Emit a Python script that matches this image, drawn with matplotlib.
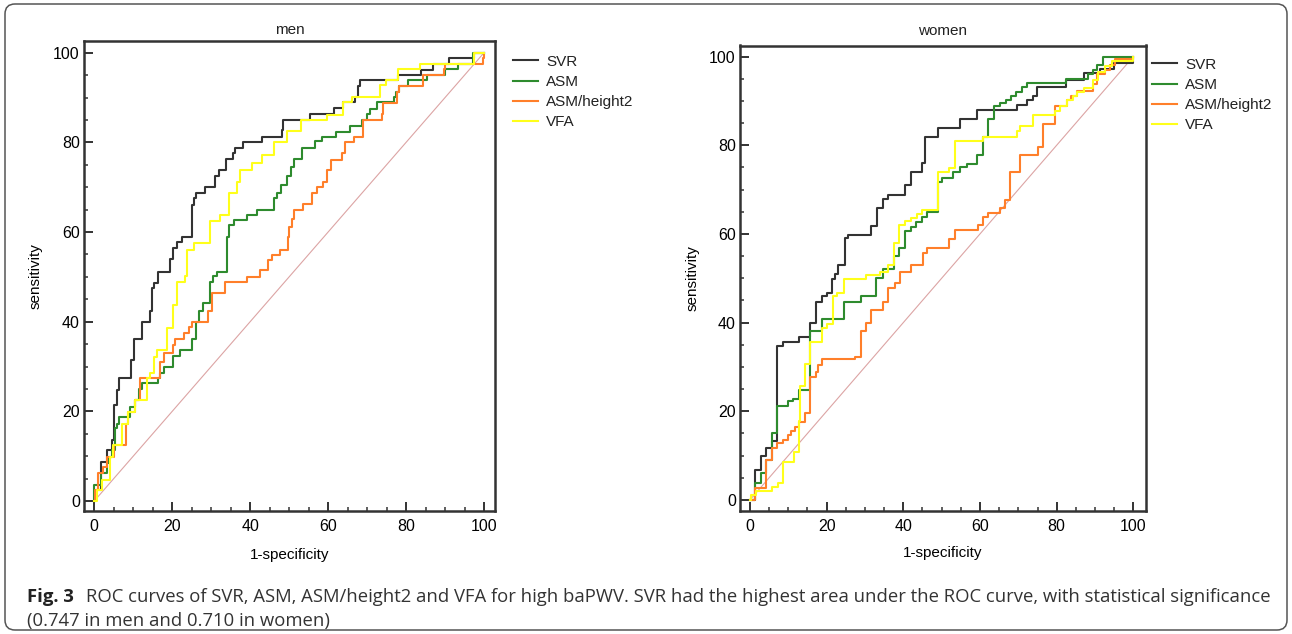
"""
ROC curves of SVR, ASM, ASM/height2 and VFA for high baPWV (men / women).
"""
import matplotlib
matplotlib.use("Agg")
import matplotlib.pyplot as plt
import numpy as np
from matplotlib import font_manager
from matplotlib.patches import FancyBboxPatch
from matplotlib.ticker import MultipleLocator
from matplotlib.transforms import IdentityTransform

# ── Data: (1-specificity, sensitivity) corners of each step curve ───────────
MEN_SVR = [(0, 0), (0.4, 2.5), (1.7, 8.8), (3.2, 11.4), (4.5, 13.6), (5.2, 21.4),
           (5.8, 24.8), (6.5, 27.5), (9.4, 31.5), (10.1, 36.2), (12.3, 40.0),
           (14.2, 42.3), (14.8, 47.5), (15.4, 48.7), (16.5, 51.2), (19.5, 54.0),
           (20.2, 56.4), (21.2, 57.7), (22.5, 58.9), (25.0, 66.0), (25.5, 67.5),
           (26.1, 68.7), (28.5, 70.0), (31.0, 72.5), (32.1, 73.9), (33.8, 76.3),
           (35.5, 77.6), (36.0, 78.7), (38.3, 80.0), (43.0, 81.2), (48.1, 82.8),
           (48.4, 85.0), (55.4, 86.4), (61.4, 87.6), (63.8, 88.9), (66.9, 90.2),
           (67.6, 92.5), (68.2, 93.8), (78.0, 95.1), (83.8, 96.2), (86.8, 97.5),
           (91.1, 98.8), (97.3, 100), (100, 100)]

MEN_ASM = [(0, 0), (0, 3.6), (1.7, 6.2), (3.2, 8.4), (3.9, 9.9), (4.5, 11.4),
           (5.4, 16.2), (5.8, 17.3), (6.5, 18.8), (9.2, 21.0), (10.5, 22.5),
           (11.4, 25.1), (12.2, 26.4), (16.5, 27.4), (16.9, 28.6), (18.0, 30.0),
           (20.2, 32.4), (22.0, 33.7), (25.0, 36.1), (26.2, 40.0), (26.8, 42.3),
           (27.9, 44.1), (29.7, 48.9), (30.4, 50.2), (31.5, 51.2), (34.0, 58.8),
           (34.6, 61.6), (35.9, 62.6), (39.1, 63.8), (41.7, 64.9), (46.0, 67.5),
           (46.8, 68.7), (48.0, 70.5), (49.4, 72.5), (50.5, 74.5), (51.3, 76.3),
           (53.3, 78.7), (56.7, 80.2), (58.4, 81.3), (62.0, 82.4), (65.6, 83.7),
           (68.6, 85.0), (70.1, 86.3), (70.8, 87.4), (72.5, 88.9), (76.8, 90.2),
           (77.4, 91.3), (78.3, 92.5), (80.6, 93.8), (85.3, 95.1), (90.0, 96.3),
           (93.4, 97.5), (97.1, 100), (100, 100)]

MEN_ASMH = [(0, 0), (0.3, 2.5), (1.1, 6.2), (2.4, 7.7), (3.2, 9.9), (5.0, 12.5),
            (8.2, 17.3), (8.8, 19.9), (10.5, 22.5), (11.8, 27.4), (16.9, 31.1),
            (18.0, 33.0), (20.2, 34.8), (20.8, 36.1), (23.0, 37.5), (24.2, 38.9),
            (25.0, 40.0), (29.3, 42.3), (30.2, 46.4), (33.6, 48.8), (39.1, 50.0),
            (42.6, 51.6), (44.5, 53.8), (45.6, 54.9), (47.7, 56.0), (49.6, 59.0),
            (50.0, 61.2), (50.7, 63.0), (51.3, 64.9), (53.5, 66.3), (55.8, 68.7),
            (57.1, 70.1), (58.8, 71.2), (59.8, 73.8), (60.7, 76.1), (63.5, 77.6),
            (64.3, 80.0), (66.7, 81.3), (68.9, 82.8), (69.0, 85.0), (73.8, 86.3),
            (74.2, 88.7), (77.6, 91.3), (78.3, 92.6), (84.4, 95.1), (89.6, 96.3),
            (90.0, 97.5), (99.8, 98.8), (100, 100)]

MEN_VFA = [(0, 0), (0.7, 2.5), (2.0, 4.7), (4.1, 9.9), (4.8, 12.5), (7.1, 17.3),
           (8.8, 19.9), (10.5, 22.5), (13.5, 27.4), (14.4, 28.5), (15.4, 32.2),
           (16.2, 33.7), (18.8, 38.5), (20.2, 43.7), (21.2, 48.8), (23.3, 50.2),
           (23.8, 56.0), (25.5, 57.5), (29.7, 62.5), (32.3, 63.8), (34.7, 68.6),
           (36.6, 71.2), (37.3, 73.8), (40.4, 75.3), (43.0, 77.2), (46.0, 80.0),
           (49.5, 82.6), (53.0, 85.0), (59.7, 86.1), (63.8, 88.9), (66.0, 90.2),
           (73.2, 92.7), (74.9, 93.8), (78.0, 96.3), (83.6, 97.5), (97.3, 99.9),
           (100, 100)]

WOMEN_SVR = [(0, 0), (1.3, 6.8), (3.0, 9.8), (4.3, 11.7), (5.7, 13.2), (7.0, 34.7),
             (8.5, 35.7), (12.9, 36.7), (15.7, 39.9), (17.2, 44.7), (18.7, 45.9),
             (20.0, 46.6), (21.3, 49.8), (22.3, 51.0), (23.0, 53.0), (24.8, 59.0),
             (25.6, 59.8), (31.7, 61.8), (33.2, 65.8), (34.8, 67.8), (36.1, 68.8),
             (40.4, 71.1), (41.9, 73.9), (44.8, 76.0), (45.7, 81.9), (49.1, 83.9),
             (54.8, 85.9), (59.3, 88.0), (69.6, 89.1), (72.2, 90.1), (73.9, 91.0),
             (74.8, 93.1), (82.4, 94.8), (87.0, 96.2), (91.3, 97.3), (95.0, 98.6),
             (100, 100)]

WOMEN_ASM = [(0, 0), (1.3, 3.8), (2.8, 6.0), (4.3, 9.0), (5.7, 15.0), (7.0, 15.8),
             (7.1, 21.1), (10.0, 22.2), (11.3, 22.8), (12.9, 24.8), (15.7, 38.0),
             (18.7, 40.8), (24.5, 44.7), (28.9, 45.9), (33.0, 50.0), (34.6, 52.0),
             (37.6, 55.0), (39.0, 56.8), (40.4, 60.6), (42.0, 61.5), (43.3, 62.8),
             (44.8, 63.9), (46.3, 64.9), (49.1, 71.8), (50.0, 72.6), (53.0, 73.9),
             (54.8, 75.2), (56.5, 75.8), (59.3, 77.8), (60.7, 81.9), (62.2, 85.9),
             (63.7, 88.8), (65.2, 89.6), (66.8, 90.1), (68.0, 91.0), (69.4, 91.9),
             (70.9, 93.1), (72.2, 94.0), (82.4, 94.9), (88.3, 96.1), (89.6, 97.0),
             (90.4, 98.1), (92.2, 100), (100, 100)]

WOMEN_ASMH = [(0, 0), (1.3, 2.6), (4.3, 9.0), (5.7, 11.7), (7.1, 12.8), (8.5, 13.5),
              (10.0, 14.7), (10.8, 15.5), (11.7, 16.4), (12.9, 17.5), (14.3, 19.6),
              (15.7, 27.7), (17.2, 28.9), (17.8, 30.5), (18.7, 31.7), (27.5, 32.2),
              (28.9, 38.0), (30.3, 40.0), (31.7, 42.9), (34.8, 44.7), (36.1, 47.8),
              (37.8, 48.9), (39.1, 51.3), (41.9, 53.0), (45.1, 55.8), (46.1, 56.8),
              (52.0, 58.8), (53.5, 60.9), (59.6, 62.0), (60.9, 63.8), (62.2, 64.8),
              (65.2, 65.8), (66.5, 67.7), (67.8, 73.9), (70.4, 77.8), (75.0, 79.7),
              (76.5, 84.8), (79.6, 88.8), (82.6, 90.1), (83.8, 91.0), (85.2, 92.2),
              (89.6, 93.9), (90.6, 96.0), (92.5, 97.0), (93.8, 98.0), (95.2, 99.4),
              (100, 100)]

WOMEN_VFA = [(0, 0), (0.2, 1.0), (1.7, 1.9), (5.7, 2.9), (7.4, 3.8), (8.7, 8.6),
             (11.5, 10.7), (12.9, 17.7), (13.0, 25.7), (14.3, 30.7), (15.7, 35.7),
             (18.7, 38.7), (20.2, 39.7), (21.6, 45.9), (22.6, 46.6), (24.5, 49.8),
             (30.3, 50.8), (34.0, 51.5), (36.1, 53.0), (37.6, 57.9), (39.0, 62.0),
             (40.4, 63.0), (42.0, 63.5), (43.5, 64.5), (45.0, 65.4), (49.1, 73.9),
             (52.0, 74.9), (53.5, 80.9), (60.7, 81.9), (69.6, 83.2), (70.4, 84.3),
             (73.7, 86.9), (79.5, 87.8), (80.9, 88.8), (82.6, 90.1), (84.2, 91.0),
             (85.4, 91.9), (87.0, 93.0), (89.6, 94.8), (90.9, 96.6), (92.5, 97.8),
             (94.4, 98.9), (100, 100)]

SERIES = ["SVR", "ASM", "ASM/height2", "VFA"]
X_TICKS = [0, 20, 40, 60, 80, 100]
Y_TICKS = [0, 20, 40, 60, 80, 100]

# ── Style ───────────────────────────────────────────────────────────────────
_COLORS = {
    "SVR": "#333333",
    "ASM": "#2e8b2e",
    "ASM/height2": "#ff7f2a",
    "VFA": "#ffff1a",
}
_DIAG = "#dca4a4"
_AXIS = "#333333"

W, H = 1292, 634
plt.rcParams.update({
    "font.family": ["Liberation Sans", "DejaVu Sans"],
    "font.size": 11,
    "text.color": "#222222",
})


def _rect(left, top, right, bottom):
    """Pixel box (top-down y) -> figure fraction rect."""
    return [left / W, 1 - bottom / H, (right - left) / W, (bottom - top) / H]


def _pick_family(cands):
    names = {f.name for f in font_manager.fontManager.ttflist}
    for c in cands:
        if c in names:
            return c
    return "DejaVu Sans"


def _draw_panel(ax, curves, title, xlim, ylim, title_y, ylab_x, xlab_y, leg_xy):
    ax.plot([0, 100], [0, 100], color=_DIAG, lw=0.8, zorder=1)
    for name, pts in zip(SERIES, curves):
        arr = np.array(pts, dtype=float)
        ax.step(arr[:, 0], arr[:, 1], where="post", color=_COLORS[name],
                lw=1.5, label=name, zorder=2)

    ax.set_xlim(*xlim)
    ax.set_ylim(*ylim)
    ax.set_xticks(X_TICKS)
    ax.set_yticks(Y_TICKS)
    ax.xaxis.set_minor_locator(MultipleLocator(5))
    ax.yaxis.set_minor_locator(MultipleLocator(5))
    ax.tick_params(which="major", direction="in", length=6.5, width=1.4,
                   color=_AXIS, labelsize=11.5)
    ax.tick_params(which="minor", direction="in", length=3.2, width=1.1, color=_AXIS)
    ax.tick_params(axis="x", pad=6)
    ax.tick_params(axis="y", pad=3)
    for sp in ax.spines.values():
        sp.set_color(_AXIS)
        sp.set_linewidth(1.8)

    ax.text(0.5, title_y, title, transform=ax.transAxes, ha="center",
            va="center", fontsize=11)
    ax.set_ylabel("sensitivity", fontsize=11, va="center")
    ax.yaxis.set_label_coords(ylab_x, 0.5)
    ax.set_xlabel("1-specificity", fontsize=11, va="center")
    ax.xaxis.set_label_coords(0.5, xlab_y)

    ax.legend(loc="upper left", bbox_to_anchor=leg_xy, frameon=False,
              borderpad=0, borderaxespad=0, handlelength=1.6,
              handletextpad=0.55, labelspacing=0.41, fontsize=11)


fig = plt.figure(figsize=(W / 100, H / 100), dpi=100)

ax_m = fig.add_axes(_rect(84, 41, 495, 511))
_draw_panel(ax_m, [MEN_SVR, MEN_ASM, MEN_ASMH, MEN_VFA], "men",
            xlim=(-2.6, 102.8), ylim=(-2.2, 102.6), title_y=1.023,
            ylab_x=-0.119, xlab_y=-0.094, leg_xy=(1.044, 0.971))

ax_w = fig.add_axes(_rect(740, 45.5, 1146, 511))
_draw_panel(ax_w, [WOMEN_SVR, WOMEN_ASM, WOMEN_ASMH, WOMEN_VFA], "women",
            xlim=(-2.6, 103.3), ylim=(-2.5, 102.5), title_y=1.031,
            ylab_x=-0.116, xlab_y=-0.09, leg_xy=(1.015, 0.974))

# ── Rounded frame and caption ───────────────────────────────────────────────
frame = FancyBboxPatch((5, 4), W - 10, H - 8,
                       boxstyle="round,pad=0,rounding_size=10",
                       transform=IdentityTransform(), fill=False,
                       ec="#555555", lw=1.1)
fig.add_artist(frame)

cap_family = [_pick_family(["Liberation Sans Narrow", "Open Sans", "Noto Sans"]), "DejaVu Sans"]
cap_rest = ("ROC curves of SVR, ASM, ASM/height2 and VFA for high baPWV. SVR had the "
            "highest area under the ROC curve, with statistical significance")
cap_line2 = "(0.747 in men and 0.710 in women)"

fs = 14
t1 = fig.text(86 / W, 1 - 597 / H, cap_rest, fontsize=fs, family=cap_family,
              color="#333333", va="center", ha="left")
fig.canvas.draw()
w = t1.get_window_extent(fig.canvas.get_renderer()).width
fs = fs * (1273 - 86) / w
t1.set_fontsize(fs)
fig.text(27 / W, 1 - 597 / H, "Fig. 3", fontsize=fs, family=cap_family,
         fontweight="bold", color="#222222", va="center", ha="left")
fig.text(27 / W, 1 - 621 / H, cap_line2, fontsize=fs, family=cap_family,
         color="#333333", va="center", ha="left")

fig.savefig("out.png", dpi=100)
plt.close(fig)
